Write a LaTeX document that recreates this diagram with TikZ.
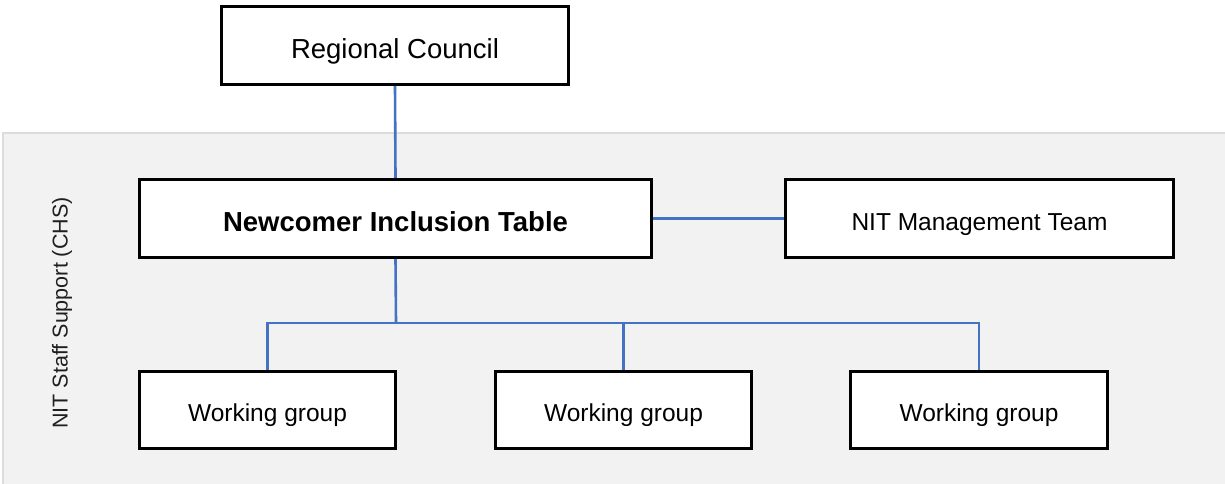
\documentclass[tikz,border=0pt]{standalone}
\usepackage{fontspec}
\setmainfont{Liberation Sans}
\definecolor{linkblue}{HTML}{4472C4}
\definecolor{panelgray}{HTML}{F2F2F2}
\definecolor{panelline}{HTML}{DCDCDC}
\tikzset{
  box/.style={draw=black, line width=3pt, fill=white, inner sep=0pt, text=black},
  link/.style={draw=linkblue, line width=2.6pt},
  bigtext/.style={font=\fontsize{27.5}{32}\selectfont, text height=31pt, text depth=5.5pt},
  smalltext/.style={font=\fontsize{24.5}{29}\selectfont, text height=28.5pt, text depth=5pt},
}
\begin{document}
\begin{tikzpicture}[x=1pt,y=-1pt]
\useasboundingbox (0,0) rectangle (1225,484);
\fill[white] (0,0) rectangle (1225,484);
\draw[panelline, fill=panelgray, line width=1.2pt] (3,133) rectangle (1228,487);

\node[text=black!88, rotate=90, font=\fontsize{21.5}{26}\selectfont] (staff) at (62,313) {NIT Staff Support (CHS)};

\node[box, bigtext, minimum width=347pt, minimum height=78pt] (rc) at (395,45.5) {Regional Council};
\node[box, bigtext, minimum width=512pt, minimum height=78pt, font=\fontsize{27.5}{32}\selectfont\bfseries] (nit) at (395.5,218.5) {Newcomer Inclusion Table};
\node[box, smalltext, minimum width=388pt, minimum height=78pt] (mgmt) at (979.5,218.5) {NIT Management Team};
\node[box, smalltext, minimum width=256pt, minimum height=77pt] (wg1) at (267.5,410) {Working group};
\node[box, smalltext, minimum width=256pt, minimum height=77pt] (wg2) at (623.5,410) {Working group};
\node[box, smalltext, minimum width=257pt, minimum height=77pt] (wg3) at (979,410) {Working group};

\coordinate (j) at (396,323);
\draw[link] (rc.south) -- (nit.north);
\draw[link] (nit.east) -- (mgmt.west);
\draw[link] (nit.south) -- (j);
\draw[link] (wg1.north) |- (j) -| (wg3.north);
\draw[link] (wg2.north) -- (wg2.north |- j);
\end{tikzpicture}
\end{document}
